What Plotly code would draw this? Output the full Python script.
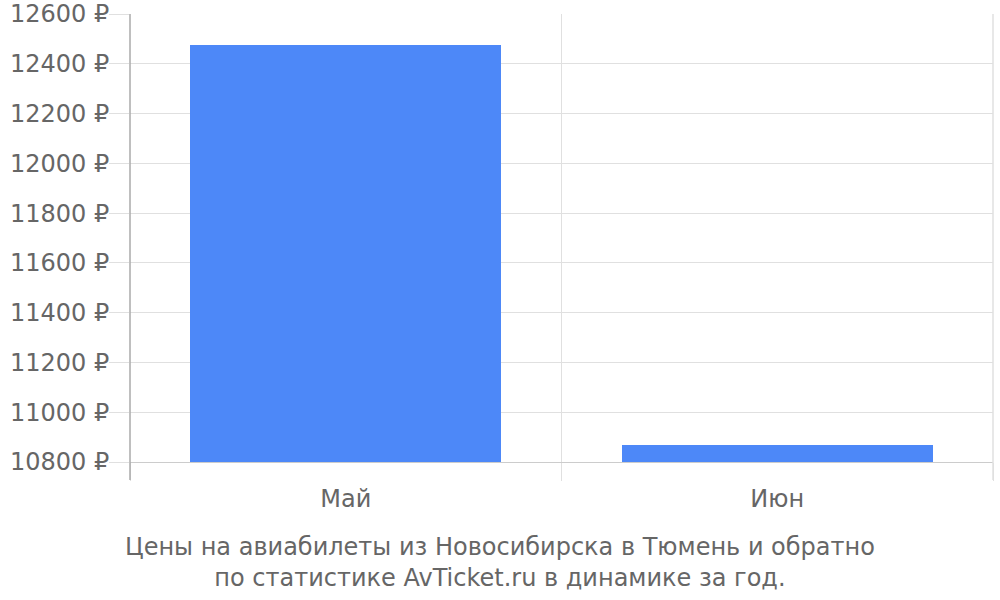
import plotly.graph_objects as go

# Данные графика
meses = ["Май", "Июн"]
precos = [12475, 10867]
y_ticks = [10800, 11000, 11200, 11400, 11600, 11800, 12000, 12200, 12400, 12600]

cor_barra = "#4d88f8"
cor_texto = "#666666"
cor_grade = "#e0e0e0"

fig = go.Figure()

# Barras em posicoes numericas, categorias rotuladas pelo eixo x2
fig.add_trace(go.Bar(
    x=list(range(len(meses))), y=precos,
    width=0.72, marker=dict(color=cor_barra, line=dict(width=0)),
    hoverinfo="skip", showlegend=False,
))
fig.add_trace(go.Scatter(
    x=list(range(len(meses))), y=[None] * len(meses), xaxis="x2",
    showlegend=False, hoverinfo="skip",
))

fig.update_layout(
    width=1000, height=600,
    margin=dict(l=130, r=7, t=14, b=138, autoexpand=False),
    paper_bgcolor="white", plot_bgcolor="white",
    font=dict(family="DejaVu Sans", color=cor_texto, size=24),
    bargap=0,
    xaxis=dict(
        range=[-0.5, len(meses) - 0.5],
        tickvals=[i - 0.5 for i in range(len(meses) + 1)],
        ticktext=[""] * (len(meses) + 1),
        showgrid=True, gridcolor=cor_grade, gridwidth=1,
        ticks="outside", ticklen=18, tickcolor=cor_grade, tickwidth=1,
        showline=True, linecolor="#cccccc", linewidth=1,
        zeroline=False, fixedrange=True, automargin=False,
    ),
    xaxis2=dict(
        overlaying="x", range=[-0.5, len(meses) - 0.5],
        tickvals=list(range(len(meses))), ticktext=meses,
        side="bottom", showgrid=False, showline=False, zeroline=False,
        ticks="", tickfont=dict(size=24, color=cor_texto),
        ticklabelstandoff=20, automargin=False,
    ),
    yaxis=dict(
        range=[y_ticks[0], y_ticks[-1]],
        tickvals=y_ticks, ticktext=[f"{v} ₽" for v in y_ticks],
        tickfont=dict(size=24, color=cor_texto),
        showgrid=True, gridcolor=cor_grade, gridwidth=1,
        ticks="outside", ticklen=20, tickcolor=cor_grade, tickwidth=1,
        ticklabelstandoff=-5, ticklabeloverflow="allow",
        showline=False, zeroline=False, automargin=False,
    ),
    shapes=[
        # linha do eixo y, desce ate as marcas do eixo x
        dict(type="line", xref="paper", yref="paper", x0=0, x1=0,
             y0=-18 / 448, y1=1, line=dict(color="#aaaaaa", width=1.5)),
        # grade na borda direita (plotly nao desenha no limite do range)
        dict(type="line", xref="paper", yref="paper", x0=1, x1=1,
             y0=-18 / 448, y1=1, line=dict(color=cor_grade, width=1.5)),
    ],
    annotations=[
        dict(
            text="Цены на авиабилеты из Новосибирска в Тюмень и обратно<br>по статистике AvTicket.ru в динамике за год.",
            xref="paper", yref="paper",
            x=(500 - 130) / 863, y=-(531 - 462) / 448,
            xanchor="center", yanchor="top", showarrow=False,
            font=dict(size=24, color=cor_texto),
        )
    ],
)

# tira a margem padrao do body para o grafico ficar em (0, 0)
fig.write_html(
    "out.html",
    config={"displayModeBar": False},
    post_script="document.body.style.margin = '0';",
)
